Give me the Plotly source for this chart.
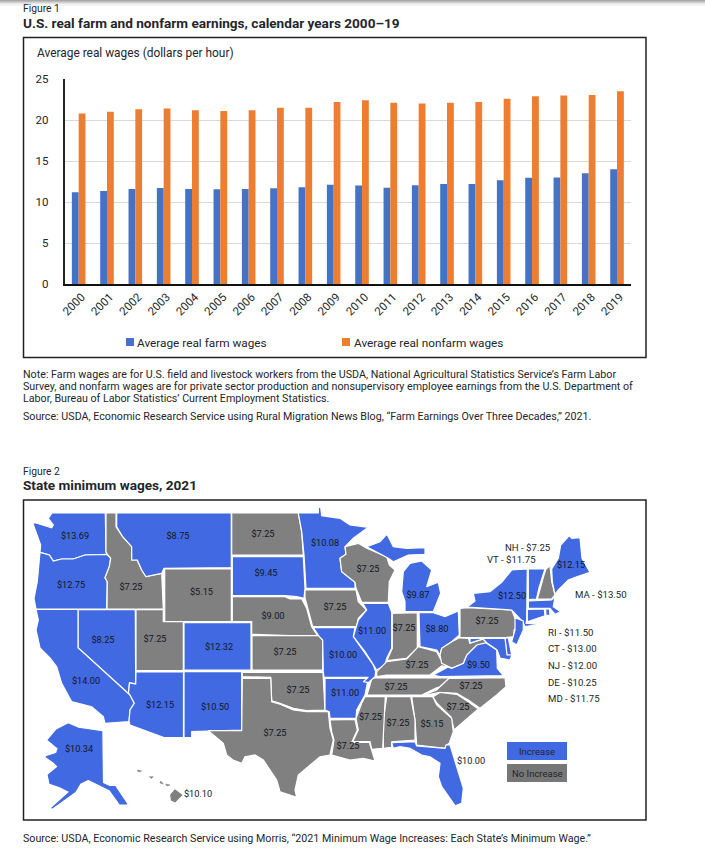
import plotly.graph_objects as go

W, H = 705, 860
FONT = "Roboto"
INK = "#23262b"
BLUE = "#4169e1"
GREY = "#808080"

# ---------- Figure 1 data ----------
years = [str(y) for y in range(2000, 2020)]
farm_wages = [11.2, 11.35, 11.6, 11.7, 11.6, 11.55, 11.6, 11.67, 11.8, 12.1,
              12.0, 11.75, 12.03, 12.2, 12.2, 12.65, 12.97, 13.0, 13.5, 14.0]
nonfarm_wages = [20.8, 21.0, 21.3, 21.4, 21.2, 21.1, 21.2, 21.5, 21.5, 22.2,
                 22.4, 22.1, 22.0, 22.1, 22.2, 22.6, 22.9, 23.0, 23.05, 23.5]
y_ticks = [0, 5, 10, 15, 20, 25]

# ---------- Figure 2 data ----------
increased = ["WA", "OR", "MT", "SD", "MN", "CO", "NV", "CA", "AZ", "NM", "MO", "AR", "IL", "MI", "OH",
             "VA", "NY", "VT", "ME", "MA", "CT", "RI", "NJ", "DE", "MD", "FL", "AK"]

wage_labels = {
    "WA": "$13.69", "OR": "$12.75", "ID": "$7.25", "MT": "$8.75", "WY": "$5.15", "ND": "$7.25",
    "SD": "$9.45", "NE": "$9.00", "CO": "$12.32", "NV": "$8.25", "UT": "$7.25", "CA": "$14.00",
    "AZ": "$12.15", "NM": "$10.50", "KS": "$7.25", "OK": "$7.25", "TX": "$7.25", "MN": "$10.08",
    "WI": "$7.25", "IA": "$7.25", "IL": "$11.00", "IN": "$7.25", "OH": "$8.80", "MI": "$9.87",
    "MO": "$10.00", "AR": "$11.00", "KY": "$7.25", "TN": "$7.25", "VA": "$9.50", "PA": "$7.25",
    "NY": "$12.50", "ME": "$12.15", "NC": "$7.25", "SC": "$7.25", "GA": "$5.15", "AL": "$7.25",
    "MS": "$7.25", "LA": "$7.25", "FL": "$10.00", "AK": "$10.34", "HI": "$10.10",
}
label_anchor = {
    "WA": (75, 537), "OR": (71, 586), "ID": (131, 587.5), "MT": (178, 537), "WY": (201.5, 593),
    "ND": (263, 535), "SD": (266, 574), "NE": (273, 617), "CO": (219, 648), "NV": (103, 641),
    "UT": (155, 640), "CA": (86, 682), "AZ": (160, 706), "NM": (215, 708), "KS": (285, 653),
    "OK": (298, 691), "TX": (275, 734), "MN": (325, 544), "WI": (368, 570), "IA": (335, 608),
    "IL": (372, 632), "IN": (404, 629), "OH": (437, 629.5), "MI": (418, 596), "MO": (343, 656),
    "AR": (345, 694), "KY": (417, 666), "TN": (396, 688), "VA": (478.5, 666), "PA": (487, 622),
    "NY": (512, 597), "ME": (571, 566), "NC": (471, 687), "SC": (458, 708), "GA": (432, 725),
    "AL": (398, 724), "MS": (370.5, 718), "LA": (348, 747), "FL": (471, 761.5), "AK": (79, 750),
    "HI": (198, 794.5),
}
side_labels = [("NH - $7.25", 505, 547.5), ("VT - $11.75", 486.7, 559), ("MA - $13.50", 575, 594),
               ("RI - $11.50", 547.7, 632), ("CT - $13.00", 547.7, 648.5), ("NJ - $12.00", 547.7, 665.7),
               ("DE - $10.25", 547.7, 682.3), ("MD - $11.75", 547.7, 698.3)]

# State outlines traced from the reference map (no geo basemap is available offline).
outlines = {
    "WA": [(52,513),(105.3,513),(106,552),(107.3,554.3),(85,555),(73.3,559),(61.7,559),(53.3,561),(49.3,555),(40,552.3),
           (40.7,545),(36.7,535),(32.7,523),(36,523),(43.3,525),(51.7,527.7),(53.3,525),(48.3,518.3)],
    "OR": [(40,552.3),(49.3,555),(53.3,561),(61.7,559),(73.3,559),(85,555),(107.3,554.3),(110.7,558.3),(109.3,566.7),
           (105,577.7),(107.3,581.7),(106.7,609),(36,609),(34,598.3),(37.3,581.7)],
    "ID": [(106,513),(116,513),(116,526.7),(122.7,536.7),(131.7,546.7),(131.7,560),(137.3,560),(141.7,570),(146,576.7),
           (161.7,573.3),(163.3,609),(107,609),(107.3,581.7),(105,577.7),(109.3,566.7),(110.7,558.3),(107.3,554.3),(106,552)],
    "MT": [(116.7,513),(231.3,513),(231.3,567.7),(164,568.3),(161.7,573.3),(146,576.7),(141.7,570),(137.3,560),(131.7,560),
           (131.7,546.7),(122.7,536.7),(116.7,526.7)],
    "WY": [(164.7,569),(231.3,569),(231.3,621.7),(164.7,621.7)],
    "NV": [(78,609.7),(135.3,609.7),(135.7,683.5),(129.5,683),(128.5,693),(130,695),(78,647.7)],
    "CA": [(36,609.5),(78,609.5),(78,647.7),(130,695),(134.3,703.3),(130,710),(129,721.7),(105,723.3),(103.3,716.7),
           (91.7,706.7),(71.7,701.7),(61.7,683.3),(56.7,666.7),(50,658),(40,648),(36,630),(38.3,620)],
    "UT": [(136,609.7),(163.3,609.7),(163.3,621.7),(183.3,621.7),(183.3,670.7),(136,670.7)],
    "CO": [(184,622.7),(251,622.7),(251,670),(184,670)],
    "AZ": [(136,672),(183.5,672),(183.5,737.5),(164,737.5),(130,725),(129,721.7),(130,710),(134.3,703.3),(130,695),
           (128.5,693),(129.5,683),(135.7,684)],
    "NM": [(184,671.7),(241.7,671.7),(241.7,730),(208.3,730.7),(191.7,731.7),(191.7,737.5),(184,737.5)],
    "ND": [(231.7,513),(298.3,513),(301.7,531.7),(303.3,555),(231.7,555)],
    "SD": [(232.3,556.7),(303.3,556.7),(305,588.3),(304,598.3),(296.7,596.7),(285,595.7),(232.3,595.7)],
    "NE": [(232.3,596.7),(285,596.7),(290,599),(301.7,599),(306.7,608.3),(311.7,626.7),(318.3,636.7),(251.7,634.3),
           (251.7,621.7),(232.3,621.7)],
    "KS": [(252,635.7),(319.3,635.7),(322.7,640),(322.7,670),(252,670)],
    "OK": [(242.3,672.3),(323,672.3),(323.3,678.3),(325,710),(306.7,710.7),(293.3,708.3),(280,703.3),(271.7,700.7),
           (270.7,677.3),(242.3,676.7)],
    "TX": [(242.3,678.3),(270.7,678.3),(271.7,701.7),(280,704.3),(293.3,710),(306.7,711.7),(328.3,711.7),(330,728.3),
           (333.3,740),(330,755),(320,756.7),(298.3,775),(295,790),(296.7,797.3),(280,791.7),(276.7,780),(263.3,760),
           (255,755),(245,756.7),(241.7,763.3),(233,760),(226.7,755),(223.3,743.3),(208.3,730.7),(241.7,730.7)],
    "MN": [(298.3,513),(318.3,513),(318.3,507),(320.7,507.7),(321.7,515.7),(340,518.3),(350,525),(368.3,527.3),(353.3,538.3),
           (345,546.7),(346,554.3),(340,558.3),(341.7,571.7),(355,582.3),(355,588.3),(306,588.3),(304,555),(301.7,531.7)],
    "IA": [(305,590),(356,590),(358.3,601.7),(366.7,610),(358.3,618.3),(356.7,626.7),(312.7,626.7),(308.3,610),(305,598)],
    "WI": [(345,546.7),(358.3,543.3),(366.7,548.3),(386.7,556.7),(389.3,565),(395,570),(389.3,581.7),(388.3,602.3),
           (361.7,602.3),(356,588.3),(355,582.3),(341.7,571.7),(340,558.3),(346,554.3)],
    "MI": [(401.7,591.7),(403.3,571.7),(410,563.3),(421.7,561),(431.7,570),(426.7,586.7),(438.3,582.3),(440.7,593.3),
           (433.3,611.7),(405,611.7),(405,601.7)],
    "MIU": [(366.7,546.7),(380,541.7),(386.7,534.3),(388.3,536.7),(393.3,546.7),(406.7,548.3),(425,547.7),(425,554.3),
            (408.3,555),(393.3,561.7),(388.3,558.3)],
    "IL": [(362.7,603.3),(388.3,603.3),(391.7,612.3),(391.7,648.3),(386.7,658.3),(385,665),(376.7,670),(373.3,665),
           (365,651.7),(353.3,636.7),(358.3,620),(366.7,610)],
    "IN": [(392.3,613.3),(417.3,612.7),(417.3,648.3),(406.7,658.3),(386.7,660.7),(392.3,648.3)],
    "OH": [(419,612.7),(433.3,612.7),(445,616.7),(458.3,611),(459.3,635),(451.7,641.7),(441.7,648.3),(440,655),(436.7,650),
           (420,646.7)],
    "KY": [(386.7,661.7),(406.7,659),(418.3,646.7),(436.7,651.7),(440,658.3),(446.7,666.7),(441.7,666),(430,675),
           (386.7,675),(376.7,676.7),(376.7,671.7)],
    "TN": [(372,678),(449,678),(448,680),(440,686.7),(436,688),(421.7,695),(367,695),(370,685)],
    "VA": [(433.3,675),(443.3,670),(448,667),(451.7,668.3),(463.3,663.3),(466.7,655),(476.7,645),(481.7,640),(486.7,643.3),
           (496.7,650),(497.3,668.3),(503.3,675.7),(440,676.7)],
    "WV": [(459.3,637.7),(468.3,638.3),(470,643.3),(483.3,639),(486.7,642.7),(476.7,645),(466.7,655),(463.3,663.3),
           (451.7,668),(441.7,663.3),(440,655),(441.7,648.3),(451.7,641.7)],
    "PA": [(460,608.3),(468.3,607.7),(511.7,610),(515,618.3),(522.7,621.7),(514,630),(514,636.7),(505,637.7),(460,637.7)],
    "NY": [(467.3,607),(475,601),(473.3,593.3),(490,591.7),(501.7,582.3),(511.7,570),(527.3,569),(527.3,600),(526.7,620),
           (526,623.3),(540,624.3),(525,626.7),(522.7,621.7),(511.7,610)],
    "NJ": [(515,617.7),(523.3,621),(523.3,630),(516.7,645),(511.7,641.7),(515,630)],
    "DE": [(505,638),(508.3,638),(511.7,655),(506.7,655)],
    "MD": [(470,638.5),(505,638.5),(507,655),(512,655),(510,660),(500,658),(497,650),(487,643),(483,639),(470,643)],
    "VT": [(528.3,569),(545,569),(543,575),(539,588),(536.5,599),(528.3,599.5)],
    "NH": [(550,565.7),(551.7,581.7),(555,595),(551.7,599),(537.3,599),(540,588.3),(544,575),(546,569)],
    "ME": [(551.7,569),(558.3,558.3),(560.7,545),(569.3,535.7),(571.7,538.3),(580,537.7),(582,558.3),(590,572.3),
           (576.7,576.7),(568.3,580),(558.3,590),(555,594.3),(552.3,581.7)],
    "MA": [(528.3,601),(551.7,600),(555,596.7),(553.3,606.7),(560.7,611.7),(555,614.3),(550,608.3),(528.3,608.3)],
    "CT": [(527.3,609.3),(544.3,609),(545,615.7),(527.3,621.7)],
    "RI": [(545.7,609),(549.3,609),(550,615),(546,615.7)],
    "NC": [(449,678.3),(505,677.7),(506,686.7),(496.7,695),(480,708.3),(468.3,700),(456.7,693.3),(440,692.3),(421.7,696),
           (436.7,690),(440,686.7)],
    "SC": [(433,696.7),(440,692.5),(456.7,694.3),(468.3,701.7),(478.3,709),(463.3,721.7),(454,730),(451,717),(437,703.3)],
    "GA": [(411.7,696.7),(432.7,696.7),(436.7,705),(451.7,718.3),(453.3,731.7),(449.3,743.3),(446.7,745),(445,748.3),
           (416.7,745),(415,720)],
    "AL": [(386.7,696.7),(410.7,696.7),(415,720),(415,740),(391.7,741.7),(391.7,747.3),(383.3,748.3),(383.3,720)],
    "MS": [(365,696.7),(385.3,696.7),(382.7,748.3),(371.7,749.3),(370,741.7),(352.7,741.7),(358.3,730),(356,718.3),(361.7,703.3)],
    "LA": [(330,720),(355,719.3),(357.3,730),(351.7,742.3),(369.3,742.3),(371.7,750),(375,761),(363.3,758.3),(350,760),
           (331.7,755),(334,740),(331.7,731.7)],
    "AR": [(325,678.3),(368.3,678.3),(367.3,683.3),(365,695),(356.7,710),(356,718.3),(330,718.3),(329.3,711.7),(325,710)],
    "MO": [(313.3,627.7),(355,627.7),(353.3,636.7),(365,653.3),(373.3,665),(375.7,671.7),(375,676.7),(368.3,682.7),
           (363.3,681.7),(368.3,677.3),(324,677.3),(323.3,671.7),(322.7,640),(319.3,636.7)],
    "FL": [(391.7,742.7),(415,741.7),(416.7,746),(445,748.3),(446,745),(450,745),(456.7,766.7),(463.3,788.3),(461.7,803.3),
           (455,805.7),(441.7,786.7),(438.3,776.7),(440,763.3),(430,756.7),(421.7,755),(410,748.3),(400,746.7),(393.3,748.3)],
    "AK": [(68.3,724),(78.3,728.3),(101.7,731.7),(102.3,783.3),(110,786.7),(115,786.7),(126.7,804),(120,804),(110,790),
           (100,785),(88.3,779.3),(80,783.3),(75,791.7),(63.3,800),(51.7,808.3),(70,791.7),(60,786.7),(50,783.3),(48.3,775),
           (58.3,766.7),(53.3,761.7),(46,756.7),(56.7,753.3),(58.3,748.3),(48.3,740),(56.7,730)],
    "HI": [(170.7,795),(175,790),(181.7,795),(175,801.7),(171.5,800)],
    "HI2": [(137.3,770),(141.7,771),(138.5,772)],
    "HI3": [(149.3,776.7),(153.3,776.7),(151.7,778.5)],
    "HI4": [(160.7,781),(163.3,784),(160,783)],
    "HI5": [(165.7,784),(170,785),(167,786)],
}

fig = go.Figure()

# ---------- bars ----------
fig.add_trace(go.Bar(x=years, y=farm_wages, name="Average real farm wages", marker=dict(color="#4472c4", line_width=0),
                     xaxis="x", yaxis="y", showlegend=False))
fig.add_trace(go.Bar(x=years, y=nonfarm_wages, name="Average real nonfarm wages", marker=dict(color="#ed7d31", line_width=0),
                     xaxis="x", yaxis="y", showlegend=False))

# ---------- map ----------
def state_color(code):
    if code in increased or code == "MIU":
        return BLUE
    return GREY

for code, pts in outlines.items():
    small = code.startswith("HI") and code != "HI"
    fig.add_trace(go.Scatter(
        x=[p[0] for p in pts] + [pts[0][0]], y=[p[1] for p in pts] + [pts[0][1]],
        mode="lines", fill="toself", fillcolor=state_color(code),
        line=dict(color=state_color(code) if code in ("AK", "HI") or small else "white", width=0.5 if small else 1.2),
        xaxis="x2", yaxis="y2", showlegend=False, name=code, hoverinfo="name"))

codes = list(wage_labels)
fig.add_trace(go.Scatter(
    x=[label_anchor[c][0] for c in codes], y=[label_anchor[c][1] for c in codes],
    text=[wage_labels[c] for c in codes], mode="text", textposition="middle center",
    textfont=dict(family=FONT, size=9.2, color="#14171f"),
    xaxis="x2", yaxis="y2", showlegend=False, hoverinfo="skip"))

# ---------- text ----------
annotations = []
def put(text, x, y, size=10, bold=False, anchor="left", color=INK):
    annotations.append(dict(text=f"<b>{text}</b>" if bold else text, x=x, y=y, xref="x2", yref="y2", xanchor=anchor,
                            yanchor="middle", showarrow=False, font=dict(family=FONT, size=size, color=color),
                            borderpad=0, borderwidth=0))

put("Figure 1", 23, 8.5, 10.3)
put("U.S. real farm and nonfarm earnings, calendar years 2000–19", 23, 22.5, 13.6, True)
put("Average real wages (dollars per hour)", 36.5, 53, 11.9)
put("Average real farm wages", 137, 343, 11.8)
put("Average real nonfarm wages", 354, 343, 11.8)
put("Note: Farm wages are for U.S. field and livestock workers from the USDA, National Agricultural Statistics Service’s Farm Labor", 23, 374.5, 10.7)
put("Survey, and nonfarm wages are for private sector production and nonsupervisory employee earnings from the U.S. Department of", 23, 386.5, 10.7)
put("Labor, Bureau of Labor Statistics’ Current Employment Statistics.", 23, 398.5, 10.7)
put("Source: USDA, Economic Research Service using Rural Migration News Blog, “Farm Earnings Over Three Decades,” 2021.", 23, 416.5, 10.7)
put("Figure 2", 23, 471, 10.3)
put("State minimum wages, 2021", 23, 484.5, 13.6, True)
put("Source: USDA, Economic Research Service using Morris, “2021 Minimum Wage Increases: Each State’s Minimum Wage.”", 23, 838.5, 10.7)
for txt, x, y in side_labels:
    put(txt, x, y, 9.6)
put("Increase", 537, 751.5, 9.5, anchor="center")
put("No Increase", 537, 773.5, 9.5, anchor="center")

def rect(x0, y0, x1, y1, fill=None, line=None, lw=0, layer="below"):
    return dict(type="rect", xref="x2", yref="y2", x0=x0, y0=y0, x1=x1, y1=y1, fillcolor=fill, layer=layer,
                line=dict(color=line, width=lw) if line else dict(width=0))

shapes = [
    rect(0, 0, W, 1, "#a8a8a8"), rect(0, 1, W, 2, "#bdbdbd"), rect(0, 2, W, 3, "#d2d2d2"),
    rect(0, 3, W, 4, "#e6e6e6"), rect(0, 4, W, 6, "#f5f5f5"),
    rect(23.5, 37.5, 646, 357.5, None, "#222222", 1.5),
    rect(23.5, 500, 646, 820, None, "#222222", 1.5),
    rect(126, 338, 134, 346, "#4472c4"),
    rect(342, 338, 350, 346, "#ed7d31"),
    rect(507, 742, 567, 760, BLUE, layer="above"),
    rect(507, 764, 567, 782, "#777777", layer="above"),
]

fig.update_layout(
    width=W, height=H, autosize=False, margin=dict(l=0, r=0, t=0, b=0, pad=0),
    paper_bgcolor="white", plot_bgcolor="rgba(0,0,0,0)", barmode="group", bargap=0.52, bargroupgap=0,
    annotations=annotations, shapes=shapes, showlegend=False,
    xaxis=dict(domain=[64.5 / W, 631.2 / W], range=[-0.5, 19.5], type="category", tickangle=-45, automargin=False,
               tickfont=dict(family=FONT, size=11.5, color=INK), showgrid=False, showline=True, linecolor="#111111",
               linewidth=1.5, ticks="", anchor="y", zeroline=False, ticklen=0, ticklabelshift=3),
    yaxis=dict(domain=[1 - 284 / H, 1 - 79 / H], range=[0, 25], tickvals=y_ticks, automargin=False,
               tickfont=dict(family=FONT, size=11.5, color=INK), gridcolor="#d9d9d9", gridwidth=1.3, showline=True,
               linecolor="#222222", linewidth=1.5, ticks="", anchor="x", zeroline=False, ticklabelstandoff=12),
    xaxis2=dict(domain=[0, 1], range=[0, W], visible=False, anchor="y2", fixedrange=True, automargin=False),
    yaxis2=dict(domain=[0, 1], range=[H, 0], visible=False, anchor="x2", fixedrange=True, automargin=False),
)

fig.write_html("out.html", config={"displayModeBar": False},
               post_script="document.body.style.margin='0';document.documentElement.style.overflow='hidden';")
